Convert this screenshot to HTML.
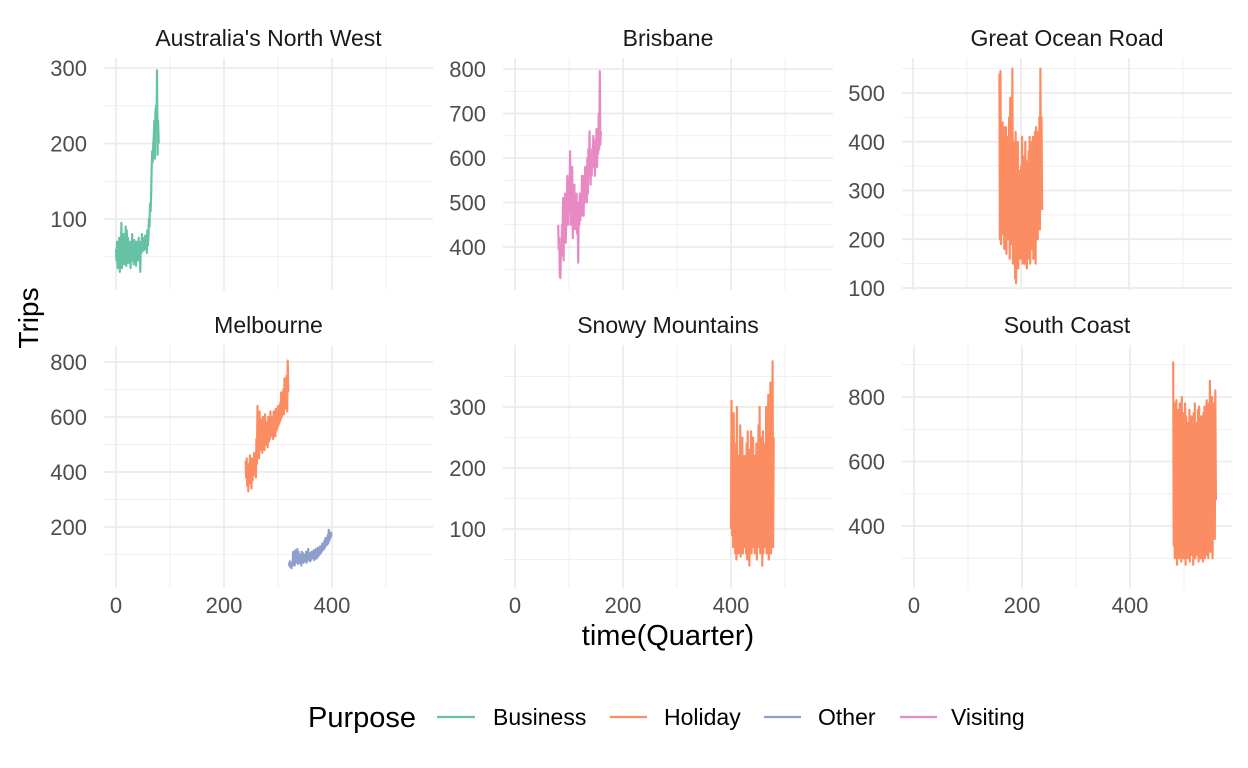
<!DOCTYPE html>
<html><head><meta charset="utf-8">
<style>
html,body{margin:0;padding:0;background:#fff;}
svg{display:block;font-family:"Liberation Sans",Arial,sans-serif;}
</style></head>
<body>
<svg id="chart" width="1248" height="768" viewBox="0 0 1248 768" xmlns="http://www.w3.org/2000/svg">
<rect width="1248" height="768" fill="#fff"/>
<g id="panels"></g>
<text transform="translate(38,318) rotate(-90)" text-anchor="middle" font-size="28" fill="#000">Trips</text>
<text x="668" y="645" text-anchor="middle" font-size="29" fill="#000">time(Quarter)</text>
<g>
<text x="308" y="727" font-size="29" fill="#000">Purpose</text>
<line x1="437" y1="717" x2="475" y2="717" stroke="#66c2a5" stroke-width="2.2"/>
<text x="493" y="725" font-size="23" fill="#000">Business</text>
<line x1="610" y1="717" x2="647" y2="717" stroke="#fc8d62" stroke-width="2.2"/>
<text x="664" y="725" font-size="23" fill="#000">Holiday</text>
<line x1="764" y1="717" x2="801" y2="717" stroke="#8da0cb" stroke-width="2.2"/>
<text x="818" y="725" font-size="23" fill="#000">Other</text>
<line x1="900" y1="717" x2="937" y2="717" stroke="#e78ac3" stroke-width="2.2"/>
<text x="951" y="725" font-size="23" fill="#000">Visiting</text>
</g>
</svg>
<script>
const xTicks = [0, 200, 400];
const nwBusinessStart = 0;
const nwBusiness = [60,45,70,35,55,40,75,30,65,50, 95,35,60,45,80,40,70,55,90,38, 85,50,75,42,65,48,70,35,60,52, 80,45,68,40,72,55,65,38,70,50, 60,45,75,50,65,30,70,55,80,60, 75,58,72,60,78,62,70,55,85,65, 75,100,90,120,110,130,165,190,175,200, 210,230,180,240,250,220,297,185,230,200];
const brisVisitingStart = 80;
const brisVisiting = [450,395,420,335,330,400,380,450,420,510, 370,480,440,520,410,460,500,560,450,540, 480,520,615,450,560,490,580,420,530,470, 540,440,500,460,520,430,500,365,480,450, 520,460,510,470,560,480,540,470,560,500, 580,510,560,500,600,520,620,560,660,580, 540,600,560,620,580,650,600,640,560,620, 600,665,580,640,610,700,620,795,630,660];
const gorHolidayStart = 160;
const gorHoliday = [540,200,545,190,420,230,440,210,430,180, 420,220,430,170,410,200,380,230,450,160, 490,190,430,210,550,150,400,200,380,120, 420,110,360,160,400,140,330,200,340,160, 350,180,410,150,330,190,370,150,400,170, 360,140,330,160,380,200,410,150,320,180, 400,190,410,160,350,170,420,150,430,210, 410,200,420,230,450,220,550,300,450,260];
const melHolidayStart = 240;
const melHoliday = [440,380,450,350,430,330,420,360,460,380, 430,340,450,370,420,390,470,400,460,380, 520,430,640,470,600,450,620,480,590,500, 560,470,600,500,580,480,610,520,580,500, 570,490,600,510,580,520,620,530,600,540, 590,520,620,540,600,530,630,550,620,560, 640,570,620,580,650,590,690,600,640,620, 700,610,740,630,720,640,750,620,805,690];
const melOtherStart = 320;
const melOther = [70,60,75,55,65,50,70,60,110,75, 100,60,115,70,105,80,120,65,110,75, 95,70,100,60,110,80,105,70,90,75, 100,80,110,70,95,85,120,80,100,75, 105,80,110,85,100,90,115,80,105,90, 120,85,110,90,125,95,115,100,130,105, 120,110,140,115,130,120,150,125,160,140, 150,135,170,140,190,150,175,160,180,165];
const snowyHolidayStart = 400;
const snowyHoliday = [100,310,90,250,70,290,80,210,60,240, 50,300,70,220,60,200,90,270,55,230, 80,250,60,200,70,220,100,180,60,240, 50,260,80,210,40,230,70,260,60,200, 90,250,70,220,60,190,80,240,50,230, 70,270,80,300,60,210,90,250,40,260, 60,220,70,240,80,300,60,270,90,320, 50,280,70,340,60,250,80,375,70,250];
const southHolidayStart = 480;
const southHoliday = [910,340,780,300,750,320,790,280,760,350, 720,300,780,320,700,290,800,330,750,300, 690,310,780,280,740,320,720,300,700,340, 760,290,680,330,740,310,700,280,750,320, 780,300,720,340,690,310,760,290,770,330, 710,300,740,320,680,290,750,330,770,300, 720,340,790,310,760,300,780,330,850,320, 740,350,800,300,780,380,760,360,820,480];
const p1YTicks = [100,200,300];
const p2YTicks = [400,500,600,700,800];
const p3YTicks = [100,200,300,400,500];
const p4YTicks = [200,400,600,800];
const p5YTicks = [100,200,300];
const p6YTicks = [400,600,800];

const NS = "http://www.w3.org/2000/svg";
const root = document.getElementById('panels');
function mk(tag, attrs, parent){const e=document.createElementNS(NS,tag);for(const k in attrs)e.setAttribute(k,attrs[k]);parent.appendChild(e);return e;}

const panels = [
 {title:"Australia's North West", slug:'australias-north-west', x0:104,x1:433,y0:58,y1:290, zx:116, yv:100, yp:219, k:0.755, ticks:p1YTicks, step:100, bottom:false, series:[{v:nwBusiness,s:nwBusinessStart,c:'#66c2a5',n:'business'}]},
 {title:'Brisbane', slug:'brisbane', x0:503,x1:833,y0:58,y1:290, zx:515, yv:400, yp:247, k:0.445, ticks:p2YTicks, step:100, bottom:false, series:[{v:brisVisiting,s:brisVisitingStart,c:'#e78ac3',n:'visiting'}]},
 {title:'Great Ocean Road', slug:'great-ocean-road', x0:902,x1:1232,y0:58,y1:290, zx:913, yv:100, yp:288, k:0.4875, ticks:p3YTicks, step:100, bottom:false, series:[{v:gorHoliday,s:gorHolidayStart,c:'#fc8d62',n:'holiday'}]},
 {title:'Melbourne', slug:'melbourne', x0:104,x1:433,y0:345,y1:588, zx:116, yv:200, yp:527, k:0.275, ticks:p4YTicks, step:200, bottom:true, series:[{v:melHoliday,s:melHolidayStart,c:'#fc8d62',n:'holiday'},{v:melOther,s:melOtherStart,c:'#8da0cb',n:'other'}]},
 {title:'Snowy Mountains', slug:'snowy-mountains', x0:503,x1:833,y0:345,y1:588, zx:515, yv:100, yp:529, k:0.61, ticks:p5YTicks, step:100, bottom:true, series:[{v:snowyHoliday,s:snowyHolidayStart,c:'#fc8d62',n:'holiday'}]},
 {title:'South Coast', slug:'south-coast', x0:902,x1:1232,y0:345,y1:588, zx:914, yv:400, yp:526, k:0.3225, ticks:p6YTicks, step:200, bottom:true, series:[{v:southHoliday,s:southHolidayStart,c:'#fc8d62',n:'holiday'}]}
];
const XK = 0.54;

panels.forEach(p=>{
  const g = mk('g',{},root);
  
  
  const xs = v => p.zx + v*XK;
  const ys = v => p.yp - (v - p.yv)*p.k;
  [100,300,500].forEach(v=>{const X=xs(v); if(X<p.x1) mk('line',{x1:X,x2:X,y1:p.y0,y2:p.y1,stroke:'#ebebeb','stroke-width':0.8},g);});
  const lo = p.ticks[0]-p.step*2, hi = p.ticks[p.ticks.length-1]+p.step*2;
  for(let v=lo+p.step/2; v<hi; v+=p.step){const Y=ys(v); if(Y>p.y0&&Y<p.y1) mk('line',{x1:p.x0,x2:p.x1,y1:Y,y2:Y,stroke:'#ebebeb','stroke-width':0.8},g);}
  xTicks.forEach(v=>{const X=xs(v); mk('line',{x1:X,x2:X,y1:p.y0,y2:p.y1,stroke:'#ebebeb','stroke-width':1.7},g);});
  p.ticks.forEach(v=>{const Y=ys(v); mk('line',{x1:p.x0,x2:p.x1,y1:Y,y2:Y,stroke:'#ebebeb','stroke-width':1.7},g);
    const t=mk('text',{x:p.x0-17,y:Y+8,'text-anchor':'end','font-size':22,fill:'#4d4d4d'},g); t.textContent=v;
    
    
  });
  if(p.bottom){ xTicks.forEach(v=>{const t=mk('text',{x:xs(v),y:613,'text-anchor':'middle','font-size':22,fill:'#4d4d4d'},g); t.textContent=v;
    
    
  });}
  const tt = mk('text',{x:(p.x0+p.x1)/2,y:p.y0-12,'text-anchor':'middle','font-size':23,fill:'#1a1a1a'},g);
  tt.textContent = p.title;
  
  
  p.series.forEach(s=>{
    const pts = s.v.map((v,i)=>xs(s.s+i).toFixed(1)+','+ys(v).toFixed(1)).join(' ');
    const pl = mk('polyline',{points:pts,fill:'none',stroke:s.c,'stroke-width':2.2,'stroke-linejoin':'round'},g);
    
    
  });
});
</script>
</body></html>
